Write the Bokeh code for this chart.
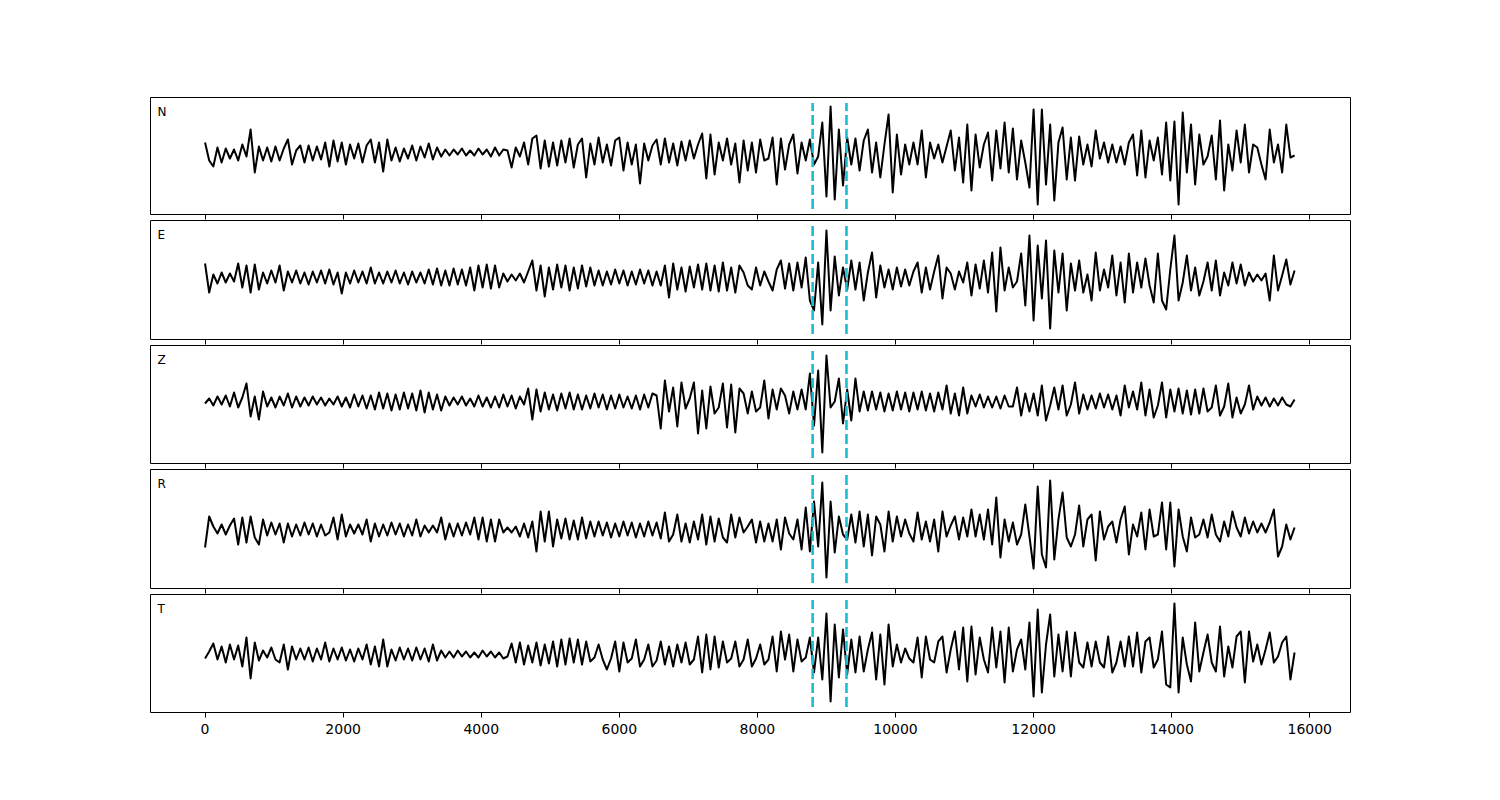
import numpy as np
from bokeh.plotting import figure
from bokeh.layouts import column
from bokeh.models import Range1d, FixedTicker, Label, CustomLabelingPolicy
from bokeh.embed import file_html
from bokeh.resources import INLINE

# ---------------- data ----------------
DT = 60  # sample interval of the plotted traces
COMPONENTS = ["N", "E", "Z", "R", "T"]
X_TICKS = [0, 2000, 4000, 6000, 8000, 10000, 12000, 14000, 16000]
X_LIMITS = (-790, 16590)
PICKS = [8800, 9290]

N_vals = [
    10, -8, -14, 5, -10, 4, -6, 3, -8, 8,
    -4, 23, -20, 6, -8, 5, -9, 6, -8, 4,
    13, -12, 2, 7, -10, 7, -8, 6, -7, 10,
    -14, 12, -9, 10, -12, 8, -6, 9, -10, 7,
    13, -10, 10, -19, 13, -8, 5, -9, 4, -6,
    7, -8, 6, -5, 9, -7, 5, -4, 3, -3,
    3, -2, 4, -3, 2, -3, 4, -2, 3, -4,
    5, -3, 3, 2, -15, 5, -4, 10, -12, 14,
    17, -16, 12, -14, 10, -13, 12, -10, 14, -15,
    8, 14, -25, 9, -12, 15, -10, 8, -13, 12,
    15, -18, 10, -12, 8, -31, 9, -8, 7, 13,
    -12, 14, -10, 9, -13, 11, -8, 12, -6, 8,
    19, -26, 18, -22, 10, -8, 14, -12, 9, -30,
    12, -18, 10, -20, 13, -8, -6, 15, -32, 14,
    -17, 8, 18, -21, 10, -8, 13, -12, -4, 30,
    -44, 46, -47, 23, -33, 15, -12, 14, -18, 12,
    23, -20, 10, -25, 8, 38, -40, 18, -22, 8,
    -12, 10, -12, 22, -25, 10, -6, 8, -10, 6,
    22, -18, 15, -30, 28, -38, 18, -15, 8, 20,
    -28, 22, -16, 30, -20, 24, -27, 12, -10, -35,
    43, -52, 43, -32, 28, -48, 10, 25, -27, 15,
    -28, 16, -12, 8, -14, 22, -6, 10, -10, 8,
    -10, 6, -12, 10, 18, -23, 22, -25, 12, -8,
    15, -22, 30, -28, 31, -52, 40, -20, 28, -32,
    18, -12, -4, 17, -27, 32, -38, 8, -18, 22,
    -10, 28, -20, 8, 5, -12, -27, 23, -10, 8,
    -20, 28, -5, -3,
]

E_vals = [
    14, -15, 3, -6, 5, -5, 4, -4, 14, -10,
    12, -15, 13, -12, 5, -6, 7, -5, 12, -13,
    6, -5, 7, -6, 5, -7, 6, -5, 7, -6,
    8, -7, 5, -16, 5, -6, 7, -5, 6, -6,
    10, -6, 5, -6, 6, -5, 7, -6, 5, -7,
    6, -5, 5, -6, 8, -7, 9, -8, 7, -8,
    9, -7, 8, -8, 10, -13, 12, -10, 13, -11,
    12, -10, 4, -4, 3, -3, 4, -5, 6, 17,
    -13, 12, -19, 10, -12, 13, -10, 12, -13, 10,
    -11, 12, -9, 10, -8, 7, -8, 6, -7, 8,
    -6, 7, -8, 6, -7, 8, -6, 7, -8, 6,
    -8, 12, -20, 14, -12, 10, -14, 11, -10, 13,
    -12, 14, -13, 12, -14, 15, -13, 10, -15, 12,
    5, -8, -12, 10, -8, 6, -4, -13, 8, 17,
    -11, 14, -13, 15, -10, 20, -23, -33, 15, -47,
    47, -33, 21, -18, 10, -12, 17, -12, 15, -23,
    5, 25, -20, 12, -10, 8, -12, 10, -9, 8,
    -8, 6, 15, -15, 10, -12, 6, 22, -21, 10,
    4, -12, 6, -5, 15, -18, 13, -11, 17, -15,
    25, -34, 30, -13, 10, -10, -4, 24, -28, 42,
    -43, 32, -21, 37, -51, 27, -15, 24, -33, 14,
    -13, 17, -15, 3, -23, 25, -13, 8, -10, 22,
    -18, 15, -25, 24, -15, 15, -10, 19, -8, -25,
    24, -23, -32, 8, 42, -23, -5, 22, -13, 10,
    -18, -4, 15, -13, 17, -18, 5, -8, 15, -6,
    13, -8, 5, -4, 3, -3, 4, -23, 22, -13,
    2, 18, -7, 7,
]

Z_vals = [
    -2, 3, -4, 5, -3, 6, -5, 9, -6, 4,
    18, -15, 5, -18, 10, -5, 4, -6, 5, -4,
    8, -6, 5, -5, 4, -4, 5, -3, 4, -4,
    3, -3, 5, -5, 4, -6, 7, -5, 6, -7,
    6, -8, 9, -7, 8, -9, 7, -8, 9, -7,
    8, -9, 11, -11, 9, -8, 7, -9, 5, -4,
    4, -3, 5, -4, 3, -5, 6, -5, 4, -6,
    5, -6, 7, -5, 6, -7, 5, -3, 13, -18,
    12, -10, 9, -8, 7, -9, 8, -7, 9, -8,
    7, -8, 6, -7, 8, -6, 7, -8, 6, -7,
    7, -6, 5, -7, 6, -8, 7, -6, 8, 6,
    -27, 21, -10, 14, -25, 19, -7, 3, 19, -32,
    11, -27, 15, -12, -6, 18, -26, 17, -31, 13,
    8, -12, 10, -10, -6, 21, -17, 12, -8, 13,
    6, -12, 10, -8, 12, -8, 28, -24, 31, -51,
    46, -6, 0, 23, -22, 12, -19, 23, -10, 10,
    -9, 10, -8, 9, -10, 8, -9, 10, -8, 9,
    -10, 9, -8, 10, -9, 8, -10, 9, -8, 16,
    -12, 8, -14, 14, -12, 6, -5, 7, -6, 5,
    -6, 5, -7, 6, -5, -5, 14, -14, 8, -10,
    8, -14, 16, -19, -4, 14, -8, 16, -14, -3,
    19, -12, 7, -8, 6, -7, 8, -6, 7, -8,
    6, -14, 16, -6, 10, -8, 19, -14, 12, -16,
    -4, 19, -16, 12, -10, 13, -12, 11, -13, 12,
    -12, 13, -10, -6, 16, -14, -5, 18, -16, 4,
    -12, -3, 16, -8, 5, -4, 4, -5, 3, -4,
    4, -3, -5, 2,
]

R_vals = [
    -18, 13, 3, -4, 5, -5, 4, 11, -15, 12,
    -13, 13, -8, -15, 10, -6, 7, -5, 6, -13,
    6, -7, 5, -6, 7, -5, 6, -7, 5, -6,
    -3, 12, -10, 15, -7, 5, -4, 5, -5, 10,
    -12, 6, -7, 5, -6, 7, -5, 6, -7, 5,
    -6, 10, -7, 4, -3, 4, -3, 12, -10, 6,
    -7, 6, -6, 7, -5, 12, -10, 12, -12, 10,
    -12, 10, -3, 2, -3, 3, -7, 6, -8, 8,
    -22, 18, -12, 18, -17, 10, -9, 11, -10, 9,
    -10, 12, -9, 8, -7, 8, -6, 7, -8, 6,
    -7, 8, -6, 7, -8, 6, -7, 8, -6, 7,
    -9, 17, -12, -5, 15, -12, 6, -13, 8, -10,
    15, -15, 13, -12, 11, -8, -13, 15, -8, 12,
    -3, 3, 10, -13, 8, -12, 6, -12, 10, -20,
    12, -4, -10, 10, -20, 22, -22, 28, -17, 47,
    -48, 28, -23, 13, -5, -10, 15, -13, 18, -17,
    15, -26, 13, 5, -22, 18, -12, 13, -7, 10,
    -4, -12, 17, -10, 8, -12, 10, -22, 18, -7,
    4, 13, -10, 12, -7, 20, -7, 15, -10, 20,
    -15, 32, -28, 10, -12, 7, -15, -5, 25, -7,
    -39, 43, -25, -38, 49, -30, 10, 37, -8, -17,
    -5, 24, -17, 10, 15, -31, 18, -10, 3, 8,
    -13, 10, 23, -25, 5, -7, 17, -20, 20, -7,
    -5, 27, -20, 27, -37, 20, -7, -22, 12, -8,
    -5, 10, -8, 15, -5, -12, 8, -7, 18, 2,
    -7, 12, -4, 8, -3, 6, -3, 7, 20, -27,
    -17, 5, -10, 2,
]

T_vals = [
    -4, 3, 11, -5, 8, -8, 10, -5, 9, -12,
    17, -24, 12, -6, 4, -3, 7, -5, -8, 10,
    -15, 8, -5, 6, -5, 7, -7, 6, -5, 12,
    -7, 6, -5, 7, -6, 5, -7, 6, -5, 10,
    -10, 8, -12, 15, -12, 5, -6, 7, -5, 6,
    -6, 7, -5, 6, -7, 10, -6, 4, -3, 3,
    -3, 4, -2, 3, -3, 2, -3, 4, -2, 3,
    -3, 2, -4, -2, 11, -8, 12, -10, 9, -8,
    12, -11, 10, -9, 13, -12, 15, -10, 16, -8,
    15, -10, 13, -7, -3, 10, -5, -15, -4, 13,
    -17, 12, -8, -4, 15, -12, -5, 10, -12, -6,
    13, -10, 8, -12, 10, -8, 12, -10, -5, 18,
    -18, 20, -15, 18, -13, 13, -8, -4, 13, -12,
    -5, 15, -12, -4, 10, -10, -5, 18, -17, 23,
    -5, 20, -17, 15, -7, -3, 17, -18, 17, -25,
    41, -47, 30, -23, 25, -20, 15, -18, 18, -17,
    5, 22, -25, 20, -30, 30, -12, 10, -8, 6,
    -4, -8, 17, -23, 18, -5, -8, 13, 18, -18,
    5, 23, -15, 27, -27, 28, -20, 17, -5, -18,
    27, -13, 23, -28, 27, -17, 5, 15, -15, 32,
    -42, 45, -38, 10, 40, -22, 20, -17, 23, -22,
    22, -8, -13, 12, -12, 13, -8, -13, 18, -18,
    -8, 13, -12, 18, -12, 22, -18, 13, 17, -13,
    -5, 23, -30, -33, 51, -38, 17, -10, -27, 32,
    -17, 2, 20, -8, -17, 28, -22, 8, -13, 18,
    23, -28, 23, -7, 10, -10, 5, 22, -8, -2,
    12, 18, -25, 2,
]

TRACES = {"N": N_vals, "E": E_vals, "Z": Z_vals, "R": R_vals, "T": T_vals}
Y_LIMITS = {"N": (-62, 55), "E": (-62, 57), "Z": (-62, 56), "R": (-59, 60), "T": (-58, 60)}

# ---------------- plot ----------------
FONT = "DejaVu Sans"
PICK_COLOR = "#17becf"
x_range = Range1d(*X_LIMITS)
figs = []
for k, comp in enumerate(COMPONENTS):
    lo, hi = Y_LIMITS[comp]
    last = k == len(COMPONENTS) - 1
    vals = np.array(TRACES[comp], dtype=float)
    t = np.arange(len(vals)) * DT

    p = figure(frame_width=1200, frame_height=hi - lo,
               x_range=x_range, y_range=Range1d(lo, hi),
               output_backend="svg", toolbar_location=None,
               min_border_left=150, min_border_right=142,
               min_border_top=97 if k == 0 else 0,
               min_border_bottom=60 if last else 6,
               background_fill_color="white", border_fill_color="white")
    p.grid.visible = False
    p.yaxis.visible = False
    p.outline_line_color = "black"
    p.outline_line_width = 1
    p.outline_line_alpha = 1.0

    ax = p.xaxis[0]
    ax.ticker = FixedTicker(ticks=X_TICKS)
    ax.axis_line_color = None
    ax.major_tick_line_color = "black"
    ax.major_tick_line_width = 1
    ax.major_tick_out = 5
    ax.major_tick_in = 0
    ax.minor_tick_line_color = None
    if last:
        ax.major_label_text_font = FONT
        ax.major_label_text_font_size = "14px"
        ax.major_label_text_color = "black"
        ax.major_label_standoff = 6
    else:
        # shared x axis: tick marks only, no labels
        ax.major_label_text_font_size = "0px"
        ax.major_label_standoff = 0
        ax.major_label_policy = CustomLabelingPolicy(
            code="for (const i of indices) { indices.unset(i) }")

    p.line(t, vals, line_color="black", line_width=2, line_join="round")

    pad = 0.046 * (hi - lo)
    p.segment(x0=PICKS, y0=[lo + pad] * len(PICKS), x1=PICKS, y1=[hi - pad] * len(PICKS),
              line_color=PICK_COLOR, line_width=2.6, line_dash="10 4")

    p.add_layout(Label(x=-690, y=hi - 7, text=comp, text_baseline="top", text_align="left",
                       text_font=FONT, text_font_size="12px", text_color="black"))
    figs.append(p)

layout = column(*figs, spacing=0)
open("out.html", "w").write(file_html(layout, INLINE))
